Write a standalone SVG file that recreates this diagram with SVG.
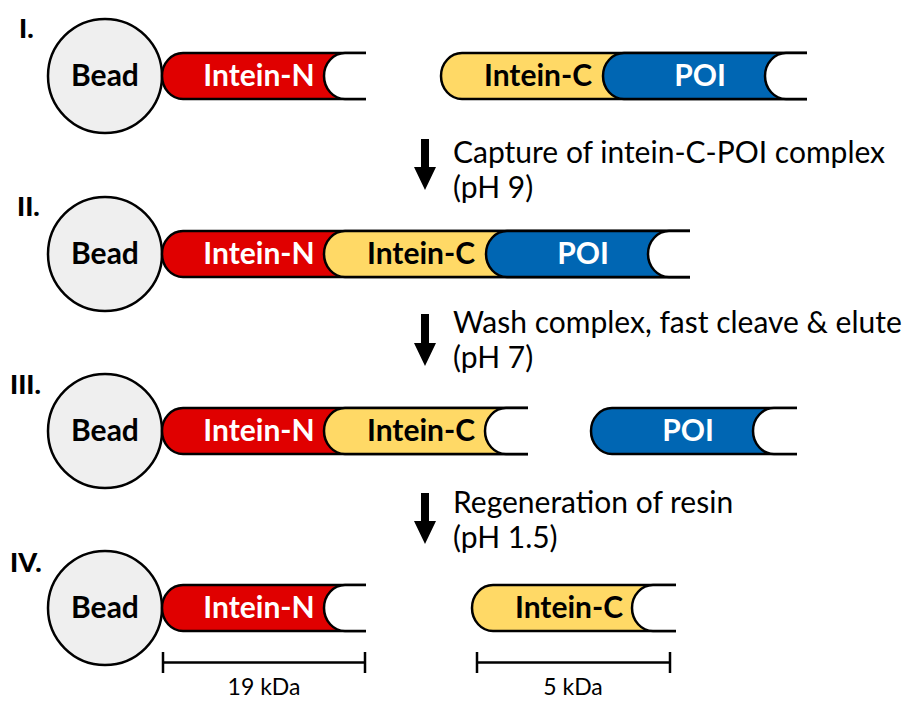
<svg xmlns="http://www.w3.org/2000/svg" width="915" height="702" viewBox="0 0 915 702">
<style>
.seg{stroke:#000;stroke-width:2.5;stroke-linejoin:round}
.red{fill:#E00000}.yel{fill:#FFD966}.blu{fill:#0066B3}.wht{fill:#FFFFFF}
.bead{fill:#EFEFEF;stroke:#000;stroke-width:2.5}
.lbl{font-family:Lato,"Open Sans",sans-serif;font-weight:bold;font-size:30px;text-anchor:middle}
.w{fill:#FFFFFF}.k{fill:#000000}
.roman{font-family:Lato,"Open Sans",sans-serif;font-weight:900;font-size:27px;fill:#000}
.step{font-family:Lato,"Open Sans",sans-serif;font-size:30px;fill:#000}
.scale{stroke:#000;stroke-width:2.5;fill:none}
.kda{font-family:Lato,"Open Sans",sans-serif;font-size:23px;fill:#000;text-anchor:middle}
</style>
<!-- Row labels -->
<g id="row-labels">
<text class="roman" x="19" y="38">I.</text>
<text class="roman" x="17" y="216">II.</text>
<text class="roman" x="10" y="394">III.</text>
<text class="roman" x="10" y="572">IV.</text>
</g>
<!-- Row I -->
<g id="r1-bead"><circle class="bead" cx="105" cy="76" r="57"/><text class="lbl k" x="105" y="86">Bead</text></g>
<g id="r1-intein-n"><path class="seg red" d="M366,53 H183 A21 23 0 0 0 183,99 H366"/><text class="lbl w" x="259" y="86">Intein-N</text></g>
<g id="r1-slot-n"><path class="seg wht" d="M366,53 H345 A21 23 0 0 0 345,99 H366"/></g>
<g id="r1-intein-c"><path class="seg yel" d="M807,53 H462 A21 23 0 0 0 462,99 H807"/><text class="lbl k" x="538" y="86">Intein-C</text></g>
<g id="r1-poi"><path class="seg blu" d="M807,53 H624 A21 23 0 0 0 624,99 H807"/><text class="lbl w" x="700" y="86">POI</text></g>
<g id="r1-slot-poi"><path class="seg wht" d="M807,53 H786 A21 23 0 0 0 786,99 H807"/></g>
<!-- Row II -->
<g id="r2-bead"><circle class="bead" cx="105" cy="254" r="57"/><text class="lbl k" x="105" y="264">Bead</text></g>
<g id="r2-intein-n"><path class="seg red" d="M690,231 H183 A21 23 0 0 0 183,277 H690"/><text class="lbl w" x="259" y="264">Intein-N</text></g>
<g id="r2-intein-c"><path class="seg yel" d="M690,231 H345 A21 23 0 0 0 345,277 H690"/><text class="lbl k" x="421" y="264">Intein-C</text></g>
<g id="r2-poi"><path class="seg blu" d="M690,231 H507 A21 23 0 0 0 507,277 H690"/><text class="lbl w" x="583" y="264">POI</text></g>
<g id="r2-slot"><path class="seg wht" d="M690,231 H669 A21 23 0 0 0 669,277 H690"/></g>
<!-- Row III -->
<g id="r3-bead"><circle class="bead" cx="105" cy="431" r="57"/><text class="lbl k" x="105" y="441">Bead</text></g>
<g id="r3-intein-n"><path class="seg red" d="M528,408 H183 A21 23 0 0 0 183,454 H528"/><text class="lbl w" x="259" y="441">Intein-N</text></g>
<g id="r3-intein-c"><path class="seg yel" d="M528,408 H345 A21 23 0 0 0 345,454 H528"/><text class="lbl k" x="421" y="441">Intein-C</text></g>
<g id="r3-slot-c"><path class="seg wht" d="M528,408 H506 A21 23 0 0 0 506,454 H528"/></g>
<g id="r3-poi"><path class="seg blu" d="M797,408 H612 A21 23 0 0 0 612,454 H797"/><text class="lbl w" x="688" y="441">POI</text></g>
<g id="r3-slot-poi"><path class="seg wht" d="M797,408 H774 A21 23 0 0 0 774,454 H797"/></g>
<!-- Row IV -->
<g id="r4-bead"><circle class="bead" cx="105" cy="608" r="57"/><text class="lbl k" x="105" y="618">Bead</text></g>
<g id="r4-intein-n"><path class="seg red" d="M366,585 H183 A21 23 0 0 0 183,631 H366"/><text class="lbl w" x="259" y="618">Intein-N</text></g>
<g id="r4-slot-n"><path class="seg wht" d="M366,585 H345 A21 23 0 0 0 345,631 H366"/></g>
<g id="r4-intein-c"><path class="seg yel" d="M676,585 H493 A21 23 0 0 0 493,631 H676"/><text class="lbl k" x="569" y="618">Intein-C</text></g>
<g id="r4-slot-c"><path class="seg wht" d="M676,585 H653 A21 23 0 0 0 653,631 H676"/></g>
<!-- Connectors (process arrows) -->
<g id="connectors" fill="#000">
<path d="M421,139 H429 V167 H436 L425,190 L414,167 H421 Z"/>
<path d="M421,314 H429 V343 H436 L425,366 L414,343 H421 Z"/>
<path d="M421,493 H429 V521 H436 L425,544 L414,521 H421 Z"/>
</g>
<g id="step-labels">
<text class="step" x="453" y="163">Capture of intein-C-POI complex</text>
<text class="step" x="453" y="198">(pH 9)</text>
<text class="step" x="453" y="333">Wash complex, fast cleave &amp; elute</text>
<text class="step" x="453" y="368">(pH 7)</text>
<text class="step" x="453" y="513">Regeneration of resin</text>
<text class="step" x="453" y="548">(pH 1.5)</text>
</g>
<!-- Scale bars -->
<g id="scale-19">
<path class="scale" d="M163,652 V673 M163,662.5 H365 M365,652 V673"/>
<text class="kda" x="264" y="695">19 kDa</text>
</g>
<g id="scale-5">
<path class="scale" d="M477,652 V673 M477,662.5 H670 M670,652 V673"/>
<text class="kda" x="573" y="695">5 kDa</text>
</g>
</svg>
